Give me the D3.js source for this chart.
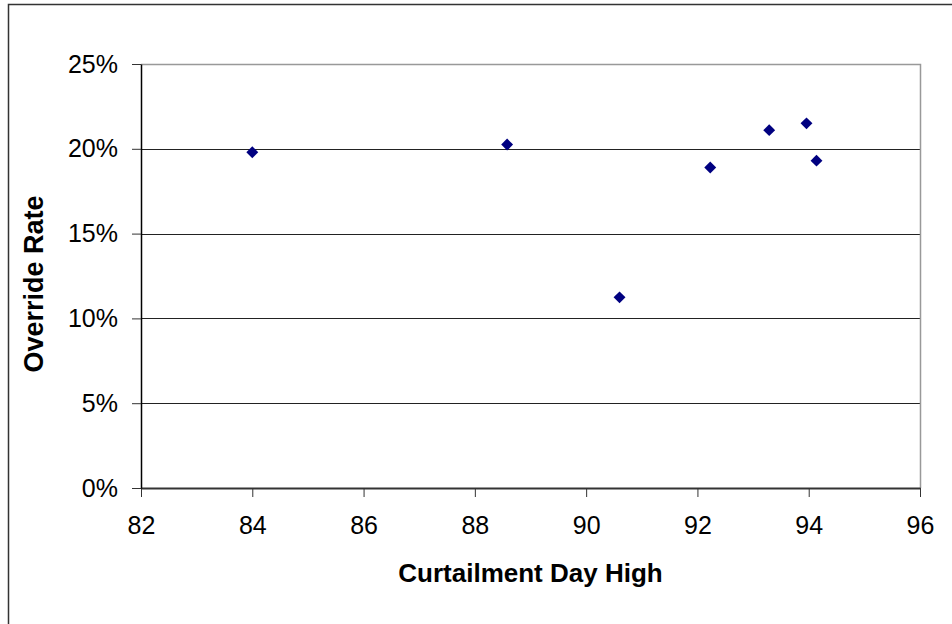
<!DOCTYPE html>
<html>
<head>
<meta charset="utf-8">
<script src="https://cdn.jsdelivr.net/npm/d3@7"></script>
<style>
  body { margin: 0; background: #fff; }
  svg { display: block; font-family: "Liberation Sans", Arial, sans-serif; }
</style>
</head>
<body>
<div id="chart"></div>
<script>
// data
var dayHigh = [84.0, 88.58, 90.6, 92.23, 93.29, 93.96, 94.14];
var overrideRate = [0.198, 0.2025, 0.1124, 0.189, 0.211, 0.215, 0.193];
var xTicks = [82, 84, 86, 88, 90, 92, 94, 96];
var yTicks = [0, 0.05, 0.10, 0.15, 0.20, 0.25];

var W = 952, H = 624;
var plot = {left: 141, right: 920, top: 64, bottom: 488};

var svg = d3.select("#chart").append("svg")
  .attr("width", W)
  .attr("height", H);

// outer chart frame (runs off right/bottom edge)
svg.append("rect")
  .attr("x", 8.5).attr("y", 4.5)
  .attr("width", 1000).attr("height", 700)
  .attr("fill", "#fff")
  .attr("stroke", "#333")
  .attr("stroke-width", 1.5);

var x = d3.scaleLinear().domain([82, 96]).range([plot.left, plot.right]);
var y = d3.scaleLinear().domain([0, 0.25]).range([plot.bottom, plot.top]);

// gridlines
svg.append("g")
  .selectAll("line")
  .data(yTicks.filter(function(d){ return d > 0 && d < 0.25; }))
  .enter().append("line")
    .attr("x1", plot.left).attr("x2", plot.right)
    .attr("y1", function(d){ return Math.round(y(d)) + 0.5; })
    .attr("y2", function(d){ return Math.round(y(d)) + 0.5; })
    .attr("stroke", "#222")
    .attr("stroke-width", 1);

// plot area border top + right (gray)
svg.append("path")
  .attr("d", "M" + plot.left + "," + (plot.top + 0.5) + "H" + (plot.right + 0.5) + "V" + plot.bottom)
  .attr("fill", "none")
  .attr("stroke", "#999")
  .attr("stroke-width", 1.5);

// x axis
var xAxis = svg.append("g")
  .attr("transform", "translate(0," + plot.bottom + ")")
  .call(d3.axisBottom(x).tickValues(xTicks).tickSize(9).tickPadding(19).tickSizeOuter(0));
xAxis.select(".domain").attr("stroke", "#333").attr("stroke-width", 2);
xAxis.selectAll(".tick line").attr("stroke", "#333");
xAxis.selectAll("text")
  .attr("font-size", 25)
  .attr("fill", "#000")
  .style("font-family", "'Liberation Sans', Arial, sans-serif");

// y axis
var yAxis = svg.append("g")
  .attr("transform", "translate(" + plot.left + ",0)")
  .call(d3.axisLeft(y).tickValues(yTicks).tickFormat(d3.format(".0%")).tickSize(9).tickPadding(14).tickSizeOuter(0));
yAxis.select(".domain").attr("stroke", "#000").attr("stroke-width", 1.5);
yAxis.selectAll(".tick line").attr("stroke", "#333");
yAxis.selectAll("text")
  .attr("font-size", 25)
  .attr("fill", "#000")
  .style("font-family", "'Liberation Sans', Arial, sans-serif");

// points - navy diamonds
svg.append("g")
  .selectAll("path")
  .data(dayHigh)
  .enter().append("path")
    .attr("d", d3.symbol().type(d3.symbolDiamond2).size(90))
    .attr("transform", function(d, i){ return "translate(" + x(d) + "," + y(overrideRate[i]) + ")"; })
    .attr("fill", "#000080");

// axis titles
svg.append("text")
  .attr("x", (plot.left + plot.right) / 2)
  .attr("y", 582)
  .attr("text-anchor", "middle")
  .attr("font-size", 26)
  .attr("font-weight", "bold")
  .text("Curtailment Day High");

svg.append("text")
  .attr("transform", "translate(43,284) rotate(-90)")
  .attr("text-anchor", "middle")
  .attr("font-size", 27)
  .attr("font-weight", "bold")
  .text("Override Rate");
</script>
</body>
</html>
